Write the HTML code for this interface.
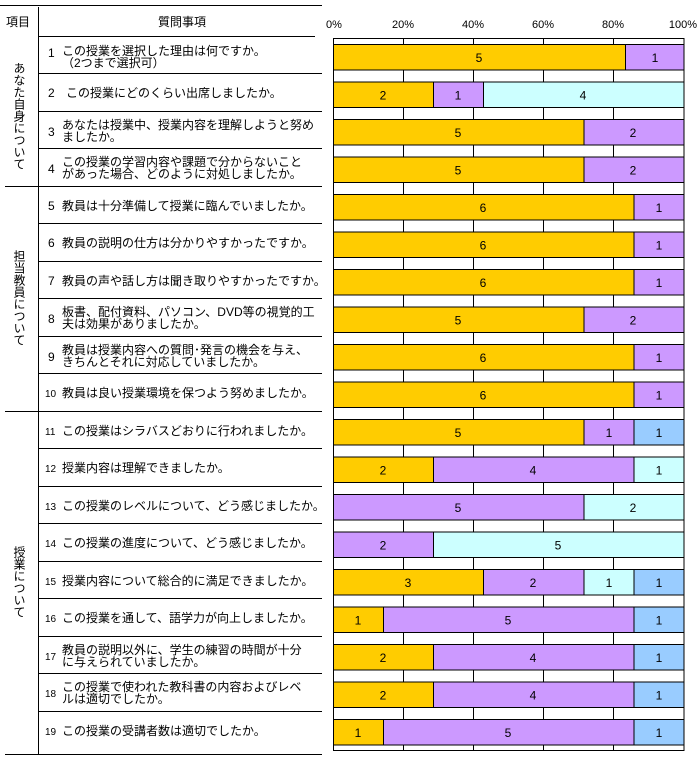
<!DOCTYPE html>
<html><head><meta charset="utf-8"><style>
html,body{margin:0;padding:0;background:#fff;}
svg{display:block;font-family:"Liberation Sans","Noto Sans CJK JP",sans-serif;}
.q{font-size:12px;}
.n{font-size:12px;}
.s{font-size:10px;}
.v{font-size:12px;text-anchor:middle;}
.p{font-size:11px;text-anchor:middle;}
</style></head><body>
<svg width="700" height="762" viewBox="0 0 700 762" xmlns="http://www.w3.org/2000/svg">
<g stroke="#000" stroke-width="1" shape-rendering="crispEdges">
<line x1="0" y1="5.5" x2="322" y2="5.5"/>
<line x1="38.5" y1="7" x2="38.5" y2="755"/>
<line x1="38" y1="36.5" x2="315" y2="36.5"/>
<line x1="38" y1="73.5" x2="322" y2="73.5"/>
<line x1="38" y1="111.5" x2="322" y2="111.5"/>
<line x1="38" y1="148.5" x2="322" y2="148.5"/>
<line x1="5" y1="186.5" x2="322" y2="186.5"/>
<line x1="38" y1="223.5" x2="322" y2="223.5"/>
<line x1="38" y1="261.5" x2="322" y2="261.5"/>
<line x1="38" y1="298.5" x2="322" y2="298.5"/>
<line x1="38" y1="336.5" x2="322" y2="336.5"/>
<line x1="38" y1="373.5" x2="322" y2="373.5"/>
<line x1="5" y1="411.5" x2="322" y2="411.5"/>
<line x1="38" y1="448.5" x2="322" y2="448.5"/>
<line x1="38" y1="486.5" x2="322" y2="486.5"/>
<line x1="38" y1="523.5" x2="322" y2="523.5"/>
<line x1="38" y1="561.5" x2="322" y2="561.5"/>
<line x1="38" y1="598.5" x2="322" y2="598.5"/>
<line x1="38" y1="636.5" x2="322" y2="636.5"/>
<line x1="38" y1="673.5" x2="322" y2="673.5"/>
<line x1="38" y1="711.5" x2="322" y2="711.5"/>
<line x1="5" y1="754.5" x2="322" y2="754.5"/>
<rect x="333.5" y="38.5" width="350.5" height="712" fill="none"/>
<line x1="403.5" y1="38" x2="403.5" y2="751"/>
<line x1="473.5" y1="38" x2="473.5" y2="751"/>
<line x1="543.5" y1="38" x2="543.5" y2="751"/>
<line x1="613.5" y1="38" x2="613.5" y2="751"/>
</g>
<g>
<text x="334" y="28" class="p">0%</text>
<text x="403" y="28" class="p">20%</text>
<text x="473" y="28" class="p">40%</text>
<text x="543" y="28" class="p">60%</text>
<text x="613" y="28" class="p">80%</text>
<text x="683" y="28" class="p">100%</text>
</g>
<g stroke="#000" stroke-width="1">
<rect x="333.5" y="44.5" width="292" height="25.5" fill="#FFCC00"/><rect x="625.5" y="44.5" width="58.5" height="25.5" fill="#CC99FF"/>
<rect x="333.5" y="82" width="100" height="25.5" fill="#FFCC00"/><rect x="433.5" y="82" width="50" height="25.5" fill="#CC99FF"/><rect x="483.5" y="82" width="200.5" height="25.5" fill="#CCFFFF"/>
<rect x="333.5" y="119.5" width="250.5" height="25.5" fill="#FFCC00"/><rect x="584" y="119.5" width="100" height="25.5" fill="#CC99FF"/>
<rect x="333.5" y="157" width="250.5" height="25.5" fill="#FFCC00"/><rect x="584" y="157" width="100" height="25.5" fill="#CC99FF"/>
<rect x="333.5" y="194.5" width="300.5" height="25.5" fill="#FFCC00"/><rect x="634" y="194.5" width="50" height="25.5" fill="#CC99FF"/>
<rect x="333.5" y="232" width="300.5" height="25.5" fill="#FFCC00"/><rect x="634" y="232" width="50" height="25.5" fill="#CC99FF"/>
<rect x="333.5" y="269.5" width="300.5" height="25.5" fill="#FFCC00"/><rect x="634" y="269.5" width="50" height="25.5" fill="#CC99FF"/>
<rect x="333.5" y="307" width="250.5" height="25.5" fill="#FFCC00"/><rect x="584" y="307" width="100" height="25.5" fill="#CC99FF"/>
<rect x="333.5" y="344.5" width="300.5" height="25.5" fill="#FFCC00"/><rect x="634" y="344.5" width="50" height="25.5" fill="#CC99FF"/>
<rect x="333.5" y="382" width="300.5" height="25.5" fill="#FFCC00"/><rect x="634" y="382" width="50" height="25.5" fill="#CC99FF"/>
<rect x="333.5" y="419.5" width="250.5" height="25.5" fill="#FFCC00"/><rect x="584" y="419.5" width="50" height="25.5" fill="#CC99FF"/><rect x="634" y="419.5" width="50" height="25.5" fill="#99CCFF"/>
<rect x="333.5" y="457" width="100" height="25.5" fill="#FFCC00"/><rect x="433.5" y="457" width="200.5" height="25.5" fill="#CC99FF"/><rect x="634" y="457" width="50" height="25.5" fill="#CCFFFF"/>
<rect x="333.5" y="494.5" width="250.5" height="25.5" fill="#CC99FF"/><rect x="584" y="494.5" width="100" height="25.5" fill="#CCFFFF"/>
<rect x="333.5" y="532" width="100" height="25.5" fill="#CC99FF"/><rect x="433.5" y="532" width="250.5" height="25.5" fill="#CCFFFF"/>
<rect x="333.5" y="569.5" width="150" height="25.5" fill="#FFCC00"/><rect x="483.5" y="569.5" width="100.5" height="25.5" fill="#CC99FF"/><rect x="584" y="569.5" width="50" height="25.5" fill="#CCFFFF"/><rect x="634" y="569.5" width="50" height="25.5" fill="#99CCFF"/>
<rect x="333.5" y="607" width="50" height="25.5" fill="#FFCC00"/><rect x="383.5" y="607" width="250.5" height="25.5" fill="#CC99FF"/><rect x="634" y="607" width="50" height="25.5" fill="#99CCFF"/>
<rect x="333.5" y="644.5" width="100" height="25.5" fill="#FFCC00"/><rect x="433.5" y="644.5" width="200.5" height="25.5" fill="#CC99FF"/><rect x="634" y="644.5" width="50" height="25.5" fill="#99CCFF"/>
<rect x="333.5" y="682" width="100" height="25.5" fill="#FFCC00"/><rect x="433.5" y="682" width="200.5" height="25.5" fill="#CC99FF"/><rect x="634" y="682" width="50" height="25.5" fill="#99CCFF"/>
<rect x="333.5" y="719.5" width="50" height="25.5" fill="#FFCC00"/><rect x="383.5" y="719.5" width="250.5" height="25.5" fill="#CC99FF"/><rect x="634" y="719.5" width="50" height="25.5" fill="#99CCFF"/>
</g>
<g class="v">
<text x="479" y="62">5</text><text x="655" y="62">1</text>
<text x="383" y="99.5">2</text><text x="458" y="99.5">1</text><text x="583" y="99.5">4</text>
<text x="458" y="137">5</text><text x="633" y="137">2</text>
<text x="458" y="174.5">5</text><text x="633" y="174.5">2</text>
<text x="483" y="212">6</text><text x="659" y="212">1</text>
<text x="483" y="249.5">6</text><text x="659" y="249.5">1</text>
<text x="483" y="287">6</text><text x="659" y="287">1</text>
<text x="458" y="324.5">5</text><text x="633" y="324.5">2</text>
<text x="483" y="362">6</text><text x="659" y="362">1</text>
<text x="483" y="399.5">6</text><text x="659" y="399.5">1</text>
<text x="458" y="437">5</text><text x="609" y="437">1</text><text x="659" y="437">1</text>
<text x="383" y="474.5">2</text><text x="533" y="474.5">4</text><text x="659" y="474.5">1</text>
<text x="458" y="512">5</text><text x="633" y="512">2</text>
<text x="383" y="549.5">2</text><text x="558" y="549.5">5</text>
<text x="408" y="587">3</text><text x="533" y="587">2</text><text x="609" y="587">1</text><text x="659" y="587">1</text>
<text x="358" y="624.5">1</text><text x="508" y="624.5">5</text><text x="659" y="624.5">1</text>
<text x="383" y="662">2</text><text x="533" y="662">4</text><text x="659" y="662">1</text>
<text x="383" y="699.5">2</text><text x="533" y="699.5">4</text><text x="659" y="699.5">1</text>
<text x="358" y="737">1</text><text x="508" y="737">5</text><text x="659" y="737">1</text>
</g>
<g class="q">
<text x="6" y="26">項目</text>
<text x="158" y="26">質問事項</text>
<text x="19" y="62" style="writing-mode:vertical-rl" writing-mode="tb">あなた自身について</text>
<text x="19" y="250" style="writing-mode:vertical-rl" writing-mode="tb">担当教員について</text>
<text x="19" y="546" style="writing-mode:vertical-rl" writing-mode="tb">授業について</text>
<text x="48" y="57" class="n">1</text><text x="62" y="55">この授業を選択した理由は何ですか。</text><text x="62" y="67">（2つまで選択可）</text>
<text x="48" y="97" class="n">2</text><text x="66" y="97">この授業にどのくらい出席しましたか。</text>
<text x="48" y="136" class="n">3</text><text x="62" y="129">あなたは授業中、授業内容を理解しようと努め</text><text x="62" y="141">ましたか。</text>
<text x="48" y="173" class="n">4</text><text x="62" y="166">この授業の学習内容や課題で分からないこと</text><text x="62" y="178">があった場合、どのように対処しましたか。</text>
<text x="48" y="210" class="n">5</text><text x="62" y="210">教員は十分準備して授業に臨んでいましたか。</text>
<text x="48" y="247" class="n">6</text><text x="62" y="247">教員の説明の仕方は分かりやすかったですか。</text>
<text x="48" y="285" class="n">7</text><text x="62" y="285">教員の声や話し方は聞き取りやすかったですか。</text>
<text x="48" y="323" class="n">8</text><text x="62" y="316">板書、配付資料、パソコン、DVD等の視覚的工</text><text x="62" y="328">夫は効果がありましたか。</text>
<text x="48" y="361" class="n">9</text><text x="62" y="354">教員は授業内容への質問･発言の機会を与え、</text><text x="62" y="366">きちんとそれに対応していましたか。</text>
<text x="45" y="397" class="s">10</text><text x="62" y="397">教員は良い授業環境を保つよう努めましたか。</text>
<text x="45" y="435" class="s">11</text><text x="62" y="435">この授業はシラバスどおりに行われましたか。</text>
<text x="45" y="472" class="s">12</text><text x="62" y="472">授業内容は理解できましたか。</text>
<text x="45" y="510" class="s">13</text><text x="62" y="510">この授業のレベルについて、どう感じましたか。</text>
<text x="45" y="547" class="s">14</text><text x="62" y="547">この授業の進度について、どう感じましたか。</text>
<text x="45" y="585" class="s">15</text><text x="62" y="585">授業内容について総合的に満足できましたか。</text>
<text x="45" y="622" class="s">16</text><text x="62" y="622">この授業を通して、語学力が向上しましたか。</text>
<text x="45" y="660" class="s">17</text><text x="62" y="654">教員の説明以外に、学生の練習の時間が十分</text><text x="62" y="666">に与えられていましたか。</text>
<text x="45" y="697" class="s">18</text><text x="62" y="691">この授業で使われた教科書の内容およびレベ</text><text x="62" y="703">ルは適切でしたか。</text>
<text x="45" y="735" class="s">19</text><text x="62" y="735">この授業の受講者数は適切でしたか。</text>
</g>
</svg>
</body></html>
